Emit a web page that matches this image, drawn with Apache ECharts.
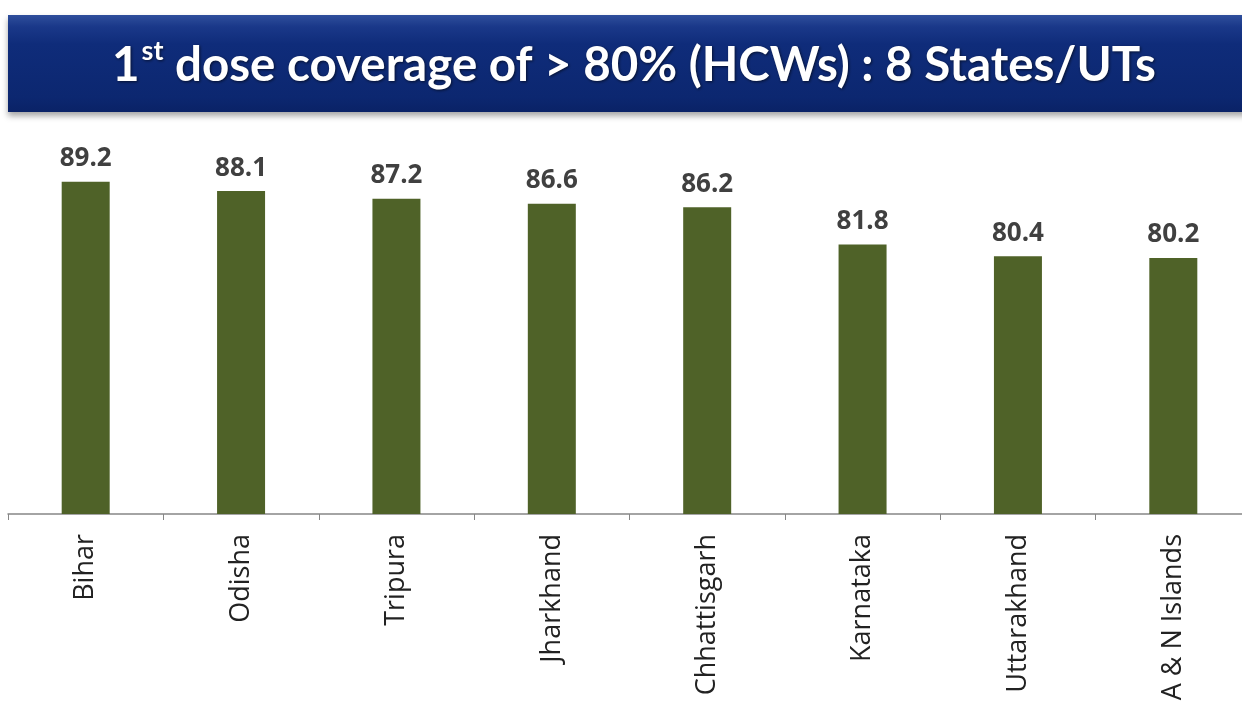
<!DOCTYPE html>
<html>
<head>
<meta charset="utf-8">
<script src="https://cdn.jsdelivr.net/npm/echarts@6/dist/echarts.min.js"></script>
<style>html,body{margin:0;padding:0;background:#fff;}#c{width:1242px;height:709px;}</style>
</head>
<body>
<div id="c"></div>
<script>
const categories = ["Bihar", "Odisha", "Tripura", "Jharkhand", "Chhattisgarh", "Karnataka", "Uttarakhand", "A & N Islands"];
const coverage = [89.2, 88.1, 87.2, 86.6, 86.2, 81.8, 80.4, 80.2];
const titleMain = "1";
const titleSup = "st";
const titleRest = " dose coverage of > 80% (HCWs) : 8 States/UTs";

const chart = echarts.init(document.getElementById('c'));
chart.setOption({
  backgroundColor: '#ffffff',
  animation: false,
  graphic: [
    {
      type: 'rect', left: 8, top: 15, z: 0,
      shape: { width: 1240, height: 97 },
      style: {
        fill: new echarts.graphic.LinearGradient(0, 0, 0, 1, [
          { offset: 0, color: '#2f4f9c' },
          { offset: 0.12, color: '#1a3889' },
          { offset: 0.3, color: '#0f2c7a' },
          { offset: 0.85, color: '#0c2770' },
          { offset: 1, color: '#0a2266' }
        ]),
        shadowColor: 'rgba(0,0,0,0.35)', shadowBlur: 6, shadowOffsetY: 4
      }
    }
  ],
  title: {
    text: '{a|' + titleMain + '}{s|' + titleSup + '}{a|' + titleRest + '}',
    left: 107, top: 33,
    textStyle: {
      rich: {
        a: { fontFamily: 'Lato', fontWeight: 'bold', fontSize: 47.5, color: '#ffffff', verticalAlign: 'bottom', lineHeight: 52,
             textShadowColor: 'rgba(0,0,0,0.6)', textShadowBlur: 3, textShadowOffsetX: 1, textShadowOffsetY: 1 },
        s: { fontFamily: 'Lato', fontWeight: 'bold', fontSize: 27, color: '#ffffff', verticalAlign: 'top', lineHeight: 52, padding: [0, 0, 19, 2],
             textShadowColor: 'rgba(0,0,0,0.6)', textShadowBlur: 3, textShadowOffsetX: 1, textShadowOffsetY: 1 }
      }
    }
  },
  grid: { left: 8, width: 1243, top: 175, bottom: 195, containLabel: false, outerBoundsMode: 'none' },
  xAxis: {
    type: 'category',
    data: categories,
    axisLine: { lineStyle: { color: '#868686', width: 1.5 } },
    axisTick: { show: true, length: 6, lineStyle: { color: '#868686' } },
    axisLabel: { rotate: 90, margin: 20, fontFamily: 'Open Sans', fontSize: 27, color: '#222222' }
  },
  yAxis: {
    type: 'value', min: 50, max: 90,
    show: false, splitLine: { show: false }
  },
  series: [{
    type: 'bar',
    data: coverage,
    barWidth: 48,
    itemStyle: { color: '#4f6228' },
    label: {
      show: true, position: 'top', distance: 10,
      fontFamily: 'Open Sans', fontWeight: 'bold', fontSize: 26, color: '#404040',
      formatter: p => p.value.toFixed(1)
    }
  }]
});
</script>
</body>
</html>
